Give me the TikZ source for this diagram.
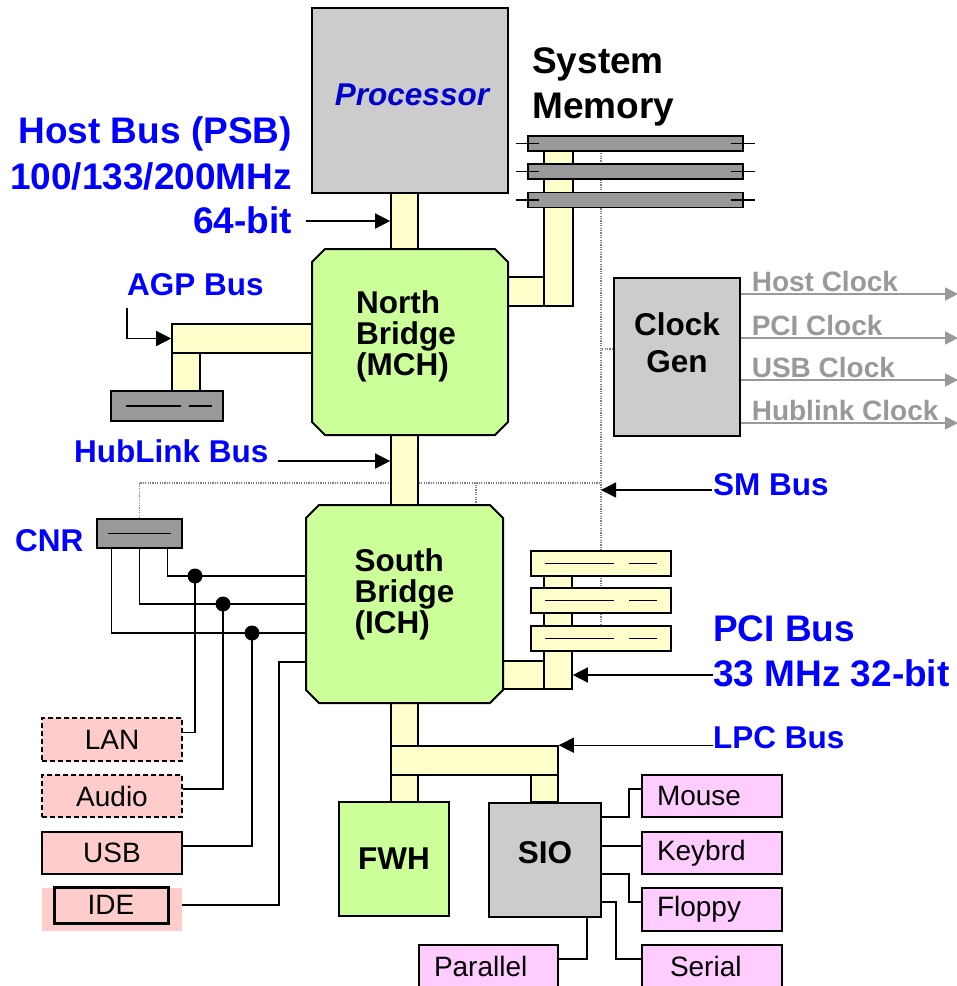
\documentclass[tikz,border=0pt]{standalone}
\usepackage{fontspec}
\setmainfont{Liberation Sans}
\usetikzlibrary{arrows.meta,positioning,backgrounds}

\definecolor{chipgray}{HTML}{CCCCCC}
\definecolor{slotgray}{HTML}{999999}
\definecolor{chipgreen}{HTML}{CCFF99}
\definecolor{busyellow}{HTML}{FFFFCC}
\definecolor{iopink}{HTML}{FFCCCC}
\definecolor{siopink}{HTML}{FFCCFF}
\definecolor{lblblue}{HTML}{0000FF}
\definecolor{cpublue}{HTML}{0000CC}
\definecolor{clkgray}{HTML}{999999}
\newcommand{\fntbig}{\fontsize{37}{44}\selectfont\bfseries}
\newcommand{\fntmed}{\fontsize{31.5}{31}\selectfont\bfseries}
\newcommand{\fntsml}{\fontsize{28}{34}\selectfont}
% green chip outline with cut corners
\newcommand{\chamferbox}[1]{%
  \draw[line width=2pt,fill=chipgreen] ([xshift=13pt]#1.north west) -- ([xshift=-13pt]#1.north east)
    -- ([yshift=-13pt]#1.north east) -- ([yshift=13pt]#1.south east) -- ([xshift=-13pt]#1.south east)
    -- ([xshift=13pt]#1.south west) -- ([yshift=13pt]#1.south west) -- ([yshift=-13pt]#1.north west) -- cycle;}

\begin{document}
\begin{tikzpicture}[x=1pt,y=-1pt,
  chip/.style={draw,line width=2pt,inner sep=0pt,font=\fntmed,align=center},
  bridge/.style={rectangle,inner sep=0pt,outer sep=0pt},
  bus/.style={draw,line width=1.6pt,fill=busyellow,inner sep=0pt},
  slot/.style={draw,line width=1.6pt,inner sep=0pt},
  io/.style={draw,line width=1.8pt,fill=iopink,minimum width=140,minimum height=42,inner sep=0pt,font=\fntsml},
  dev/.style={draw,line width=1.8pt,fill=siopink,minimum width=140,minimum height=42,inner sep=0pt,font=\fntsml,text width=110pt,align=left},
  lb/.style={font=\fntmed,text=lblblue,inner sep=0pt},
  lbb/.style={font=\fntbig,text=lblblue,inner sep=0pt},
  ar/.style={-{Triangle[length=15pt,width=15pt]},line width=1.4pt},
  ck/.style={-{Triangle[length=13pt,width=13pt]},line width=1.6pt,draw=clkgray},
  wr/.style={line width=1.4pt},
  dt/.style={draw=gray,line width=1.6pt,dash pattern=on 1.2pt off 1.2pt},
  dot/.style={circle,fill,inner sep=0pt,minimum size=15pt}]
\useasboundingbox (0,0) rectangle (957,986);
% bus bars
\node[bus,minimum width=27,minimum height=56] (hbus) at (404.5,221) {};
\node[bus,minimum width=29,minimum height=170] (mbusv) at (558.5,221) {};
\node[bus,minimum width=36,minimum height=29] (mbush) at (526,291.5) {};
\node[bus,minimum width=140,minimum height=29] (agph) at (242,338.5) {};
\node[bus,minimum width=28,minimum height=38] (agpv) at (186,372) {};
\node[bus,minimum width=27,minimum height=70] (hlbus) at (404.5,470) {};
\node[bus,minimum width=28,minimum height=126] (pciv) at (558,626) {};
\node[bus,minimum width=41,minimum height=28] (pcih) at (523.5,675) {};
\node[bus,minimum width=27,minimum height=43] (lpcv) at (404.5,724.5) {};
\node[bus,minimum width=167,minimum height=29] (lpch) at (474.5,760.5) {};
\node[bus,minimum width=27,minimum height=27] (fwhb) at (404.5,788.5) {};
\node[bus,minimum width=27,minimum height=27] (siob) at (544.5,788.5) {};
% chips
\node[chip,fill=chipgray,minimum width=196,minimum height=185] (cpu) at (410,100.5) {};
\node[font=\fntmed\itshape,text=cpublue] at ([xshift=2pt,yshift=6pt]cpu.center) {Processor};
\node[bridge,minimum width=196,minimum height=186] (nb) at (410,342) {};
\chamferbox{nb}
\node[font=\fntmed,align=left] at ([xshift=-4pt,yshift=6pt]nb.center) {North\\Bridge\\(MCH)};
\node[bridge,minimum width=197,minimum height=198] (sb) at (404.5,604) {};
\chamferbox{sb}
\node[font=\fntmed,align=left] at ([yshift=10pt]sb.center) {South\\Bridge\\(ICH)};
\node[chip,fill=chipgray,minimum width=126,minimum height=158] (clk) at (677,357) {};
\node[font=\fntmed,align=center] at ([yshift=14pt]clk.center) {Clock\\[6pt]Gen};
\node[chip,fill=chipgreen,minimum width=110,minimum height=114] (fwh) at (394,859) {FWH};
\node[chip,fill=chipgray,minimum width=112,minimum height=114] (sio) at (545,860) {};
\node[font=\fntmed] at ([yshift=7pt]sio.center) {SIO};
% slots
\node[slot,fill=slotgray,minimum width=215,minimum height=15] (mem1) at (635.5,143.5) {};
\node[slot,fill=slotgray,minimum width=215,minimum height=15] (mem2) at (635.5,171.5) {};
\node[slot,fill=slotgray,minimum width=215,minimum height=15] (mem3) at (635.5,200) {};
\node[slot,fill=slotgray,minimum width=112,minimum height=30] (agp) at (167,406) {};
\node[slot,fill=slotgray,minimum width=85,minimum height=29] (cnr) at (139.5,533.5) {};
\node[slot,fill=busyellow,minimum width=140,minimum height=25] (pci1) at (601,563.5) {};
\node[slot,fill=busyellow,minimum width=140,minimum height=25] (pci2) at (601,600.5) {};
\node[slot,fill=busyellow,minimum width=140,minimum height=25] (pci3) at (601,638.5) {};
\foreach \m in {mem1,mem2,mem3}
  \draw[wr] ([xshift=-11pt]\m.west) -- ([xshift=12pt]\m.west) ([xshift=-13pt]\m.east) -- ([xshift=11pt]\m.east);
\foreach \p in {pci1,pci2,pci3}
  \draw[wr] ([xshift=-56pt]\p.center) -- ([xshift=13pt]\p.center) ([xshift=28pt]\p.center) -- ([xshift=56pt]\p.center);
\draw[wr] ([xshift=-41pt]agp.center) -- ([xshift=14pt]agp.center) ([xshift=22pt]agp.center) -- ([xshift=45pt]agp.center);
\draw[wr] ([xshift=-31.5pt]cnr.center) -- ([xshift=31.5pt]cnr.center);
% peripherals
\node[io,dash pattern=on 5pt off 3pt,minimum height=43] (lan) at (112,739.5) {LAN};
\node[io,dash pattern=on 5pt off 3pt] (aud) at (112,796) {Audio};
\node[io] (usb) at (112,853) {USB};
\node[fill=iopink,minimum width=140,minimum height=43,inner sep=0pt] (idebg) at (112,909.5) {};
\node[draw,line width=3pt,minimum width=114,minimum height=36,inner sep=0pt,font=\fntsml] (ide) at (111,905) {IDE};
\node[dev] (mouse) at (712,796) {Mouse};
\node[dev] (kbd) at (712,853) {Keybrd};
\node[dev,minimum height=43] (flp) at (712,909.5) {Floppy};
\node[dev] (ser) at (712,966) {\hspace*{13pt}Serial};
\node[dev,minimum width=139,text width=109pt] (par) at (488.5,966) {Parallel};
% labels
\node[font=\fntbig,anchor=base west,inner sep=0pt] (sys) at (532,73) {System};
\node[font=\fntbig,anchor=base west,inner sep=0pt] (memlbl) at (532,118) {Memory};
\node[lbb,anchor=base east] (psb) at (292,143) {Host Bus (PSB)};
\node[lbb,anchor=base east] (psbf) at (292,189) {100/133/200MHz};
\node[lbb,anchor=base east] (psbw) at (292,233) {64-bit};
\node[lb,anchor=base west] (agplbl) at (127,295) {AGP Bus};
\node[lb,anchor=base west] (hllbl) at (74,462) {HubLink Bus};
\node[lb,anchor=base west] (smlbl) at (713,495) {SM Bus};
\node[lb,anchor=base west] (cnrlbl) at (15,551) {CNR};
\node[lbb,anchor=base west] (pcilbl) at (713,641) {PCI Bus};
\node[lbb,anchor=base west] (pcif) at (713,686) {33 MHz 32-bit};
\node[lb,anchor=base west] (lpclbl) at (713,748) {LPC Bus};
\coordinate (smj) at (601,483);
% arrows
\draw[ar] (hbus.west) ++(-84,0) -- (hbus.west);
\draw[ar] ([yshift=-12pt]agplbl.south west) |- (agph.west);
\draw[ar] (hlbus.west) ++(-112,-9) -- ++(112,0);
\draw[ar] (smj) ++(111,7) -- ++(-111,0);
\draw[ar] (pciv.east |- pcih.center) ++(140,0) -- ++(-140,0);
\draw[ar] (lpch.north east) ++(154,0) -- ++(-154,0);
\foreach \dy/\t in {63/Host Clock,19/PCI Clock,-23/USB Clock,-66/Hublink Clock}
  \draw[ck] ([yshift=\dy pt]clk.east) -- ++(217,0)
    node[pos=0,anchor=base west,xshift=10pt,yshift=3pt,inner sep=0pt,text=clkgray,font=\fntsml\bfseries] {\t};
% wires
\node[dot] (j1) at (195,576) {};
\node[dot] (j2) at (223,604) {};
\node[dot] (j3) at (252,633) {};
\draw[wr] ([xshift=28pt]cnr.south) |- ([yshift=28pt]sb.west);
\draw[wr] (cnr.south) |- (sb.west);
\draw[wr] ([xshift=-28pt]cnr.south) |- ([yshift=-29pt]sb.west);
\draw[wr] (idebg.east |- ide.east) -| ([xshift=-27pt,yshift=-58pt]sb.west) -- ([yshift=-58pt]sb.west);
\draw[wr] (j1.center) |- ([yshift=7pt]lan.east);
\draw[wr] (j2.center) |- ([yshift=7pt]aud.east);
\draw[wr] (j3.center) |- ([yshift=7pt]usb.east);
\draw[wr] ([yshift=43pt]sio.east) -- ++(27,0) |- ([yshift=7pt]mouse.west);
\draw[wr] ([yshift=14pt]sio.east) -- ([yshift=7pt]kbd.west);
\draw[wr] ([yshift=-14pt]sio.east) -- ++(27,0) |- ([yshift=7.5pt]flp.west);
\draw[wr] ([yshift=-42pt]sio.east) -- ++(14,0) |- ([yshift=7pt]ser.west);
\draw[wr] ([xshift=42pt]sio.south) |- ([yshift=7pt]par.east);
% SM bus (dotted)
\begin{pgfonlayer}{background}
\draw[dt] (mem1.center -| smj) -- (pci3.center -| smj);
\draw[dt] ([yshift=8pt]clk.west) -- ([yshift=8pt]clk.west -| smj);
\draw[dt] (cnr.north) |- (smj);
\draw[dt] (sb.north -| 476,0) -- (smj -| 476,0);
\end{pgfonlayer}
\end{tikzpicture}
\end{document}
